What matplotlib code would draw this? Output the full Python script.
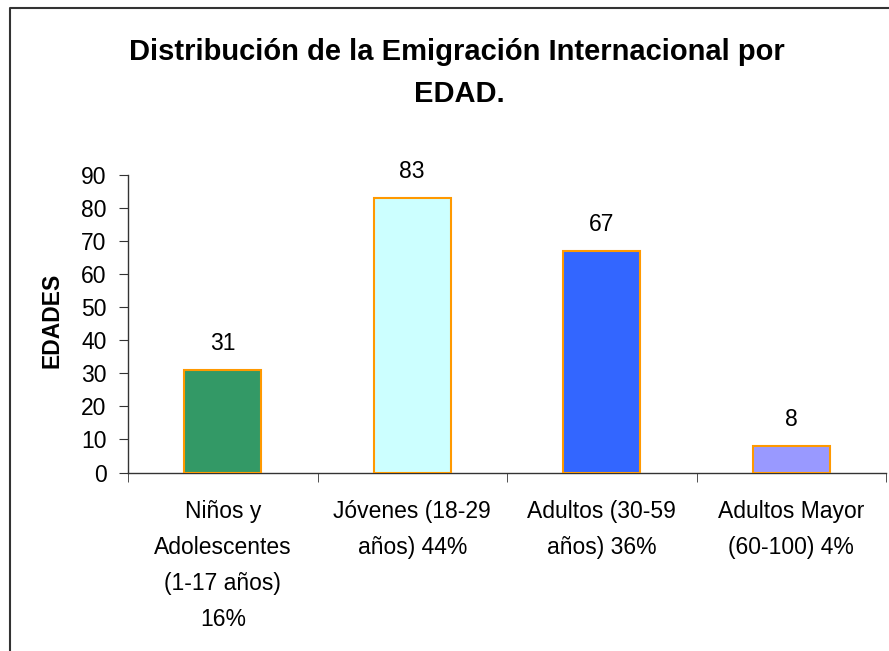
import matplotlib.pyplot as plt
from matplotlib.lines import Line2D

plt.rcParams['font.family'] = ['Liberation Sans', 'DejaVu Sans']

# data
categories = ["Niños y\nAdolescentes\n(1-17 años)\n16%",
              "Jóvenes (18-29\naños) 44%",
              "Adultos (30-59\naños) 36%",
              "Adultos Mayor\n(60-100) 4%"]
values = [31, 83, 67, 8]
colors = ["#339966", "#CCFFFF", "#3366FF", "#9999FF"]
yticks = [0, 10, 20, 30, 40, 50, 60, 70, 80, 90]

W, H = 889, 651
fig = plt.figure(figsize=(W / 100, H / 100), dpi=100)
ax = fig.add_axes([128 / W, 1 - 472.5 / H, (886 - 128) / W, (472.5 - 175) / H])

pos = list(range(len(values)))
bars = ax.bar(pos, values, width=0.405, color=colors,
              edgecolor="#FF9900", linewidth=1.5, zorder=3)

for x, v in zip(pos, values):
    ax.annotate(str(v), (x, v), xytext=(0, 14.4), textcoords="offset points",
                ha="center", va="baseline", fontsize=16.5)

ax.set_xlim(-0.5, len(values) - 0.5)
ax.set_ylim(0, 90)
ax.set_yticks(yticks)
ax.set_xticks(pos)
ax.set_xticklabels(categories, fontsize=16.5, linespacing=1.71, va="top")
ax.set_xticks([p - 0.5 for p in range(len(values) + 1)], minor=True)
ax.tick_params(axis="x", which="major", length=0, pad=20)
ax.tick_params(axis="x", which="minor", length=6.5, direction="out", color="#333333")
ax.tick_params(axis="y", length=6.3, direction="out", labelsize=16.5, pad=9, color="#333333")

for s in ["top", "right"]:
    ax.spines[s].set_visible(False)
for s in ["left", "bottom"]:
    ax.spines[s].set_color("#333333")
    ax.spines[s].set_linewidth(1.0)

fig.text(457 / W, 1 - 60 / H, "Distribución de la Emigración Internacional por",
         ha="center", va="baseline", fontsize=21, fontweight="bold")
fig.text(459 / W, 1 - 102 / H, "EDAD.",
         ha="center", va="baseline", fontsize=21, fontweight="bold")
fig.text(52 / W, 1 - 320 / H, "EDADES", rotation=90,
         ha="center", va="center", fontsize=16.5, fontweight="bold")

# outer chart frame (top and left edges only are visible)
fig.add_artist(Line2D([9.8 / W, 9.8 / W, 1], [0, 1 - 8 / H, 1 - 8 / H],
                      transform=fig.transFigure, color="#333333", linewidth=1.5))

fig.savefig("out.png", dpi=100)
